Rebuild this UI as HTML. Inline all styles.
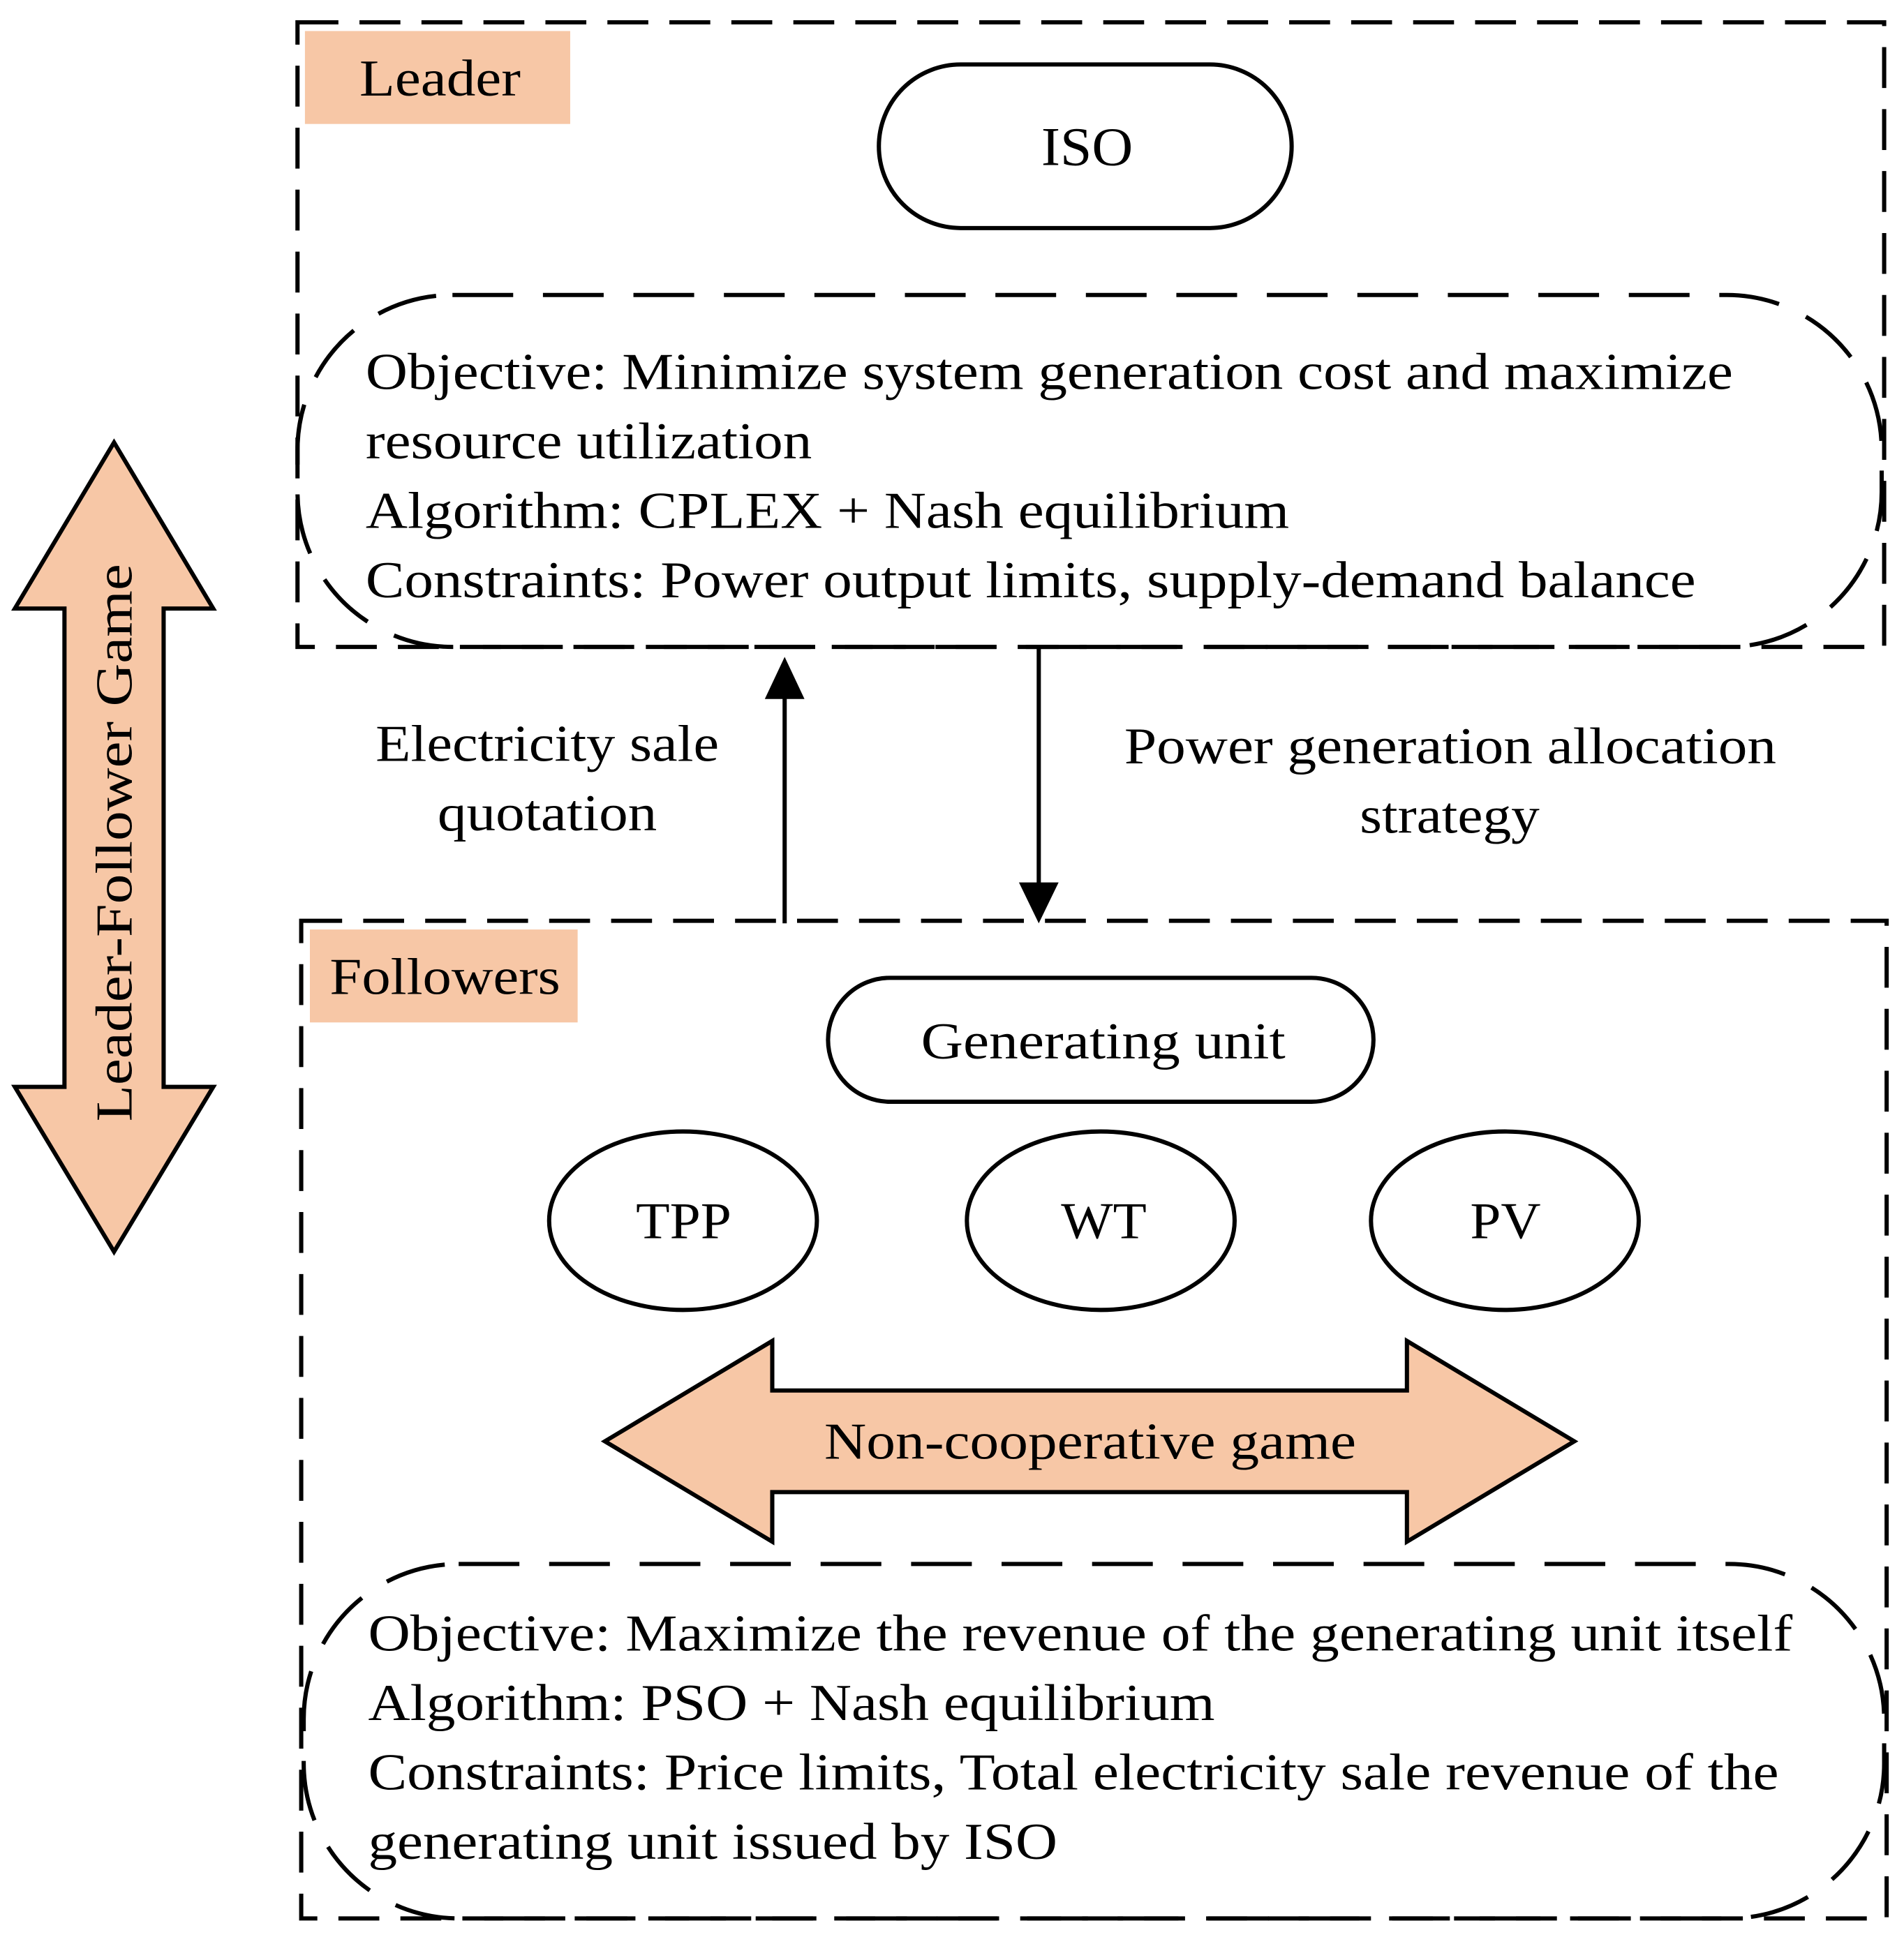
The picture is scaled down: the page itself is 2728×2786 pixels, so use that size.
<!DOCTYPE html>
<html><head><meta charset="utf-8"><style>
html,body{margin:0;padding:0;background:#fff;}
svg{display:block;}
text{font-family:"Liberation Serif",serif;fill:#000;}
</style></head><body>
<svg width="2728" height="2786" viewBox="0 0 1536 1568.6" xmlns="http://www.w3.org/2000/svg">
<g fill="none" stroke="#000" stroke-width="3.4">
<rect x="240" y="18" width="1280" height="504" stroke-dasharray="33 17"/>
<rect x="243" y="743" width="1279" height="805" stroke-dasharray="33 17"/>
<rect x="240" y="238" width="1278" height="284" rx="125" ry="125" stroke-dasharray="49 24"/>
<rect x="245" y="1262" width="1275" height="286" rx="125" ry="125" stroke-dasharray="49 24"/>
<rect x="709" y="52" width="333" height="132" rx="66" ry="66"/>
<rect x="668" y="789" width="440" height="100" rx="50" ry="50"/>
<ellipse cx="551" cy="985" rx="108" ry="72"/>
<ellipse cx="888" cy="985" rx="108" ry="72"/>
<ellipse cx="1214" cy="985" rx="108" ry="72"/>
<line x1="633" y1="745" x2="633" y2="560"/>
<line x1="838" y1="522" x2="838" y2="716"/>
</g>
<polygon points="633,530 617,564 649,564" fill="#000"/>
<polygon points="838,745 822,712 854,712" fill="#000"/>
<rect x="246" y="25" width="214" height="75" fill="#F7C7A6"/>
<rect x="250" y="750" width="216" height="75" fill="#F7C7A6"/>
<polygon points="488,1163 623,1082 623,1122 1135,1122 1135,1082 1270,1163 1135,1244 1135,1204 623,1204 623,1244" fill="#F7C7A6" stroke="#000" stroke-width="3.4"/>
<polygon points="92,357 172,491 132,491 132,877 172,877 92,1010 12,877 52,877 52,491 12,491" fill="#F7C7A6" stroke="#000" stroke-width="3.4"/>
<g font-size="42" lengthAdjust="spacingAndGlyphs">
<text x="290" y="77" textLength="130" lengthAdjust="spacingAndGlyphs">Leader</text>
<text x="266" y="802" textLength="186" lengthAdjust="spacingAndGlyphs">Followers</text>
<text x="840" y="133" textLength="74" lengthAdjust="spacingAndGlyphs" font-size="44">ISO</text>
<text x="295" y="314" textLength="1103" lengthAdjust="spacingAndGlyphs">Objective: Minimize system generation cost and maximize</text>
<text x="295" y="370" textLength="360" lengthAdjust="spacingAndGlyphs">resource utilization</text>
<text x="295" y="426" textLength="745" lengthAdjust="spacingAndGlyphs">Algorithm: CPLEX + Nash equilibrium</text>
<text x="295" y="482" textLength="1073" lengthAdjust="spacingAndGlyphs">Constraints: Power output limits, supply-demand balance</text>
<text x="303" y="614" textLength="277" lengthAdjust="spacingAndGlyphs">Electricity sale</text>
<text x="353" y="670" textLength="177" lengthAdjust="spacingAndGlyphs">quotation</text>
<text x="907" y="616" textLength="526" lengthAdjust="spacingAndGlyphs">Power generation allocation</text>
<text x="1097" y="672" textLength="145" lengthAdjust="spacingAndGlyphs">strategy</text>
<text x="743" y="854" textLength="294" lengthAdjust="spacingAndGlyphs">Generating unit</text>
<text x="513" y="999" textLength="77" lengthAdjust="spacingAndGlyphs">TPP</text>
<text x="856" y="999" textLength="69" lengthAdjust="spacingAndGlyphs">WT</text>
<text x="1186" y="999" textLength="57" lengthAdjust="spacingAndGlyphs">PV</text>
<text x="665" y="1177" textLength="429" lengthAdjust="spacingAndGlyphs">Non-cooperative game</text>
<text x="297" y="1332" textLength="1149" lengthAdjust="spacingAndGlyphs">Objective: Maximize the revenue of the generating unit itself</text>
<text x="297" y="1388" textLength="683" lengthAdjust="spacingAndGlyphs">Algorithm: PSO + Nash equilibrium</text>
<text x="297" y="1444" textLength="1138" lengthAdjust="spacingAndGlyphs">Constraints: Price limits, Total electricity sale revenue of the</text>
<text x="297" y="1500" textLength="556" lengthAdjust="spacingAndGlyphs">generating unit issued by ISO</text>
<text x="-225" y="0" textLength="450" lengthAdjust="spacingAndGlyphs" transform="translate(106,680) rotate(-90)">Leader-Follower Game</text>
</g>
</svg>
</body></html>
